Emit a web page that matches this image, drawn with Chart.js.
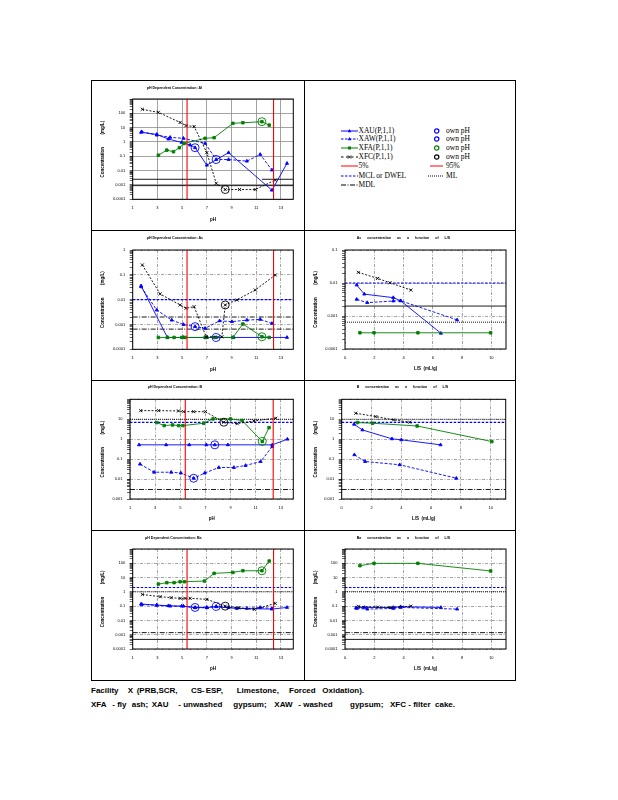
<!DOCTYPE html>
<html>
<head>
<meta charset="utf-8">
<script src="https://cdn.jsdelivr.net/npm/chart.js@4.4.1/dist/chart.umd.min.js"></script>
<style>
  html, body { margin: 0; padding: 0; background: #fff; }
  body { width: 618px; height: 800px; position: relative; overflow: hidden;
         font-family: "Liberation Sans Narrow", "Liberation Sans", Arial, sans-serif; }
  .cell { position: absolute; border: 1px solid #000; box-sizing: border-box; z-index: 3; }
  .ttl { position: absolute; font-size: 3.6px; font-weight: bold; white-space: pre; line-height: 1; z-index: 4; }
  .lg { position: absolute; font-family: "Liberation Serif", "Times New Roman", serif; font-size: 7.5px;
        line-height: 1; white-space: pre; }
  .cap { position: absolute; font-size: 8px; font-weight: bold; line-height: 1; white-space: pre; }
</style>
</head>
<body>
<script>
// ---- axes ----
const phTicks = [1, 3, 5, 7, 9, 11, 13];
const phRange = [1, 14];
const lsTicks = [0, 2, 4, 6, 8, 10];
const lsRange = [0, 11];
const pctPH = [5.4, 12.4];          // 5% and 95%

// ---- Al : pH dependence ----
const alRange = [1e-4, 1e3];
const alXAU = [[1.68,4.7],[2.95,3.4],[3.89,1.6],[4.97,0.93],[5.65,0.61],[6.05,0.40],[7.0,0.024],[8.76,0.18],[12.27,0.00043],[13.49,0.032]];
const alXAW = [[1.73,5.2],[2.95,3.0],[4.03,2.1],[5.11,1.8],[6.86,0.79],[7.76,0.060],[8.76,0.060],[10.24,0.046],[11.32,0.135],[12.27,0.011]];
const alXFA = [[3.08,0.12],[3.76,0.27],[4.30,0.21],[4.78,0.40],[5.16,0.79],[6.86,1.8],[7.59,2.0],[9.11,20],[9.92,22],[11.46,26],[12.05,15]];
const alXFC = [[1.78,190],[3.08,117],[4.84,23],[5.32,14],[5.97,12],[7.0,0.18],[7.76,0.0013],[8.49,0.00048],[9.65,0.00048],[10.92,0.00048],[12.54,0.0022]];
const alOwnPH = [['XAU',6.05,0.40],['XAW',7.76,0.060],['XFA',11.46,26],['XFC',8.49,0.00048]];
const alRefHigh = 0.0025, alRefLow = 0.0009;

// ---- As ----
const asRangePH = [1e-4, 1];
const asRangeLS = [1e-4, 0.1];
const asXAU = [[1.68,0.036],[3.81,0.0003],[5.11,0.0003],[7.0,0.0003],[7.76,0.0003],[9.16,0.0003],[13.49,0.0003]];
const asXAW = [[1.68,0.033],[2.95,0.0038],[4.16,0.0015],[5.11,0.001],[6.05,0.00082],[6.86,0.0007],[8.03,0.0014],[9.03,0.0013],[10.24,0.0015],[11.32,0.0016],[12.27,0.0011]];
const asXFA = [[3.08,0.0003],[3.81,0.0003],[4.35,0.0003],[4.97,0.0003],[5.24,0.0003],[6.86,0.0003],[7.59,0.0003],[9.11,0.0003],[9.92,0.00105],[11.46,0.00032],[12.05,0.0003]];
const asXFC = [[1.78,0.25],[3.22,0.017],[4.84,0.0061],[5.32,0.0045],[5.97,0.0052],[6.95,0.00032],[8.22,0.00032],[8.49,0.0061],[9.43,0.0097],[10.92,0.0245],[12.54,0.098]];
const asOwnPH = [['XAW',6.05,0.00082],['XAU',7.76,0.0003],['XFA',11.46,0.00032],['XFC',8.49,0.0061]];
const asXAU_LS = [[0.8,0.0087],[1.32,0.0046],[3.3,0.0036],[3.8,0.0029],[6.55,0.0003]];
const asXAW_LS = [[0.8,0.0032],[1.52,0.00254],[3.3,0.00285],[3.8,0.0029],[7.66,0.00076]];
const asXFA_LS = [[1.02,0.00031],[1.98,0.00031],[4.98,0.00031],[9.95,0.00031]];
const asXFC_LS = [[0.91,0.021],[2.23,0.0138],[3.07,0.0102],[4.5,0.0061]];
const asMCL = 0.01, asML = 0.002, asMDL = 0.00065;

// ---- B ----
const bRange = [1e-3, 100];
const bXAU = [[1.72,0.52],[3.88,0.52],[5.72,0.52],[7.08,0.52],[7.75,0.52],[8.79,0.52],[12.33,0.52],[13.53,1.0]];
const bXAW = [[1.8,0.056],[2.92,0.022],[4.28,0.022],[5.05,0.020],[6.07,0.011],[6.95,0.020],[8.07,0.038],[9.27,0.038],[10.2,0.048],[11.4,0.076],[12.33,0.43]];
const bXFA = [[3.13,6.8],[3.72,4.8],[4.39,5.2],[4.87,4.8],[5.21,4.8],[6.87,6.3],[7.61,10.4],[9.0,10.4],[9.93,8.6],[11.53,0.76],[12.07,3.8]];
const bXFC = [[1.85,27],[3.27,27],[4.87,26],[5.27,24],[6.07,24],[7.0,24],[8.47,7.1],[9.53,6.0],[10.87,8.3],[12.6,11.2]];
const bOwnPH = [['XAU',7.75,0.52],['XAW',6.07,0.011],['XFA',11.53,0.76],['XFC',8.47,7.1]];
const bXAU_LS = [[0.83,5.6],[1.39,2.9],[3.37,1.04],[4.0,0.93],[6.63,0.52]];
const bXAW_LS = [[0.85,0.165],[1.57,0.076],[3.89,0.052],[7.69,0.011]];
const bXFA_LS = [[1.06,6.8],[2.07,6.3],[5.06,4.6],[10.07,0.76]];
const bXFC_LS = [[0.94,20],[2.29,13.6],[3.48,9.3],[4.56,7.1]];
const bDWEL = 7, bML = 10, bMDL = 0.003;

// ---- Ba ----
const baRange = [1e-4, 1e3];
const baXAU = [[1.68,0.14],[2.95,0.119],[3.89,0.107],[4.97,0.10],[6.05,0.081],[7.0,0.081],[7.76,0.091],[9.43,0.069],[12.27,0.062],[13.49,0.081]];
const baXAW = [[1.73,0.13],[2.95,0.115],[4.03,0.10],[5.11,0.10],[6.05,0.077],[7.0,0.077],[7.76,0.096],[8.76,0.081],[10.24,0.069],[11.32,0.081],[12.27,0.069]];
const baXFA = [[3.08,3.5],[3.76,4.4],[4.35,4.4],[4.84,5.1],[5.19,5.1],[6.81,5.7],[7.59,19.7],[9.11,23],[9.92,30],[11.46,30],[12.05,144]];
const baXFC = [[1.78,0.66],[3.22,0.46],[4.11,0.39],[4.84,0.35],[5.24,0.35],[5.65,0.35],[7.0,0.30],[8.49,0.10],[9.57,0.077],[10.84,0.059],[12.54,0.156]];
const baOwnPH = [['XAU',6.05,0.081],['XAW',7.76,0.096],['XFA',11.46,30],['XFC',8.49,0.10]];
const baXAU_LS = [[0.75,0.077],[1.32,0.081],[3.3,0.081],[3.8,0.091],[6.55,0.081]];
const baXAW_LS = [[0.8,0.069],[1.52,0.062],[3.3,0.069],[3.8,0.081],[7.66,0.062]];
const baXFA_LS = [[1.02,68],[1.98,99],[4.98,99],[9.95,29]];
const baXFC_LS = [[0.91,0.096],[2.23,0.086],[3.07,0.081],[4.5,0.10]];
const baMCL = 2, baML = 1, baMDL = 0.0014, baLow = 0.00047;

// ---- legend + caption text ----
const legendLeft = ['XAU(P,1,1)', 'XAW(P,1,1)', 'XFA(P,1,1)', 'XFC(P,1,1)', '5%', 'MCL or DWEL', 'MDL'];
const legendRight = ['own pH', 'own pH', 'own pH', 'own pH', '95%', 'ML'];
const captionLine1 = ['Facility', 'X', '(PRB,SCR,', 'CS', '-', 'ESP,', 'Limestone,', 'Forced', 'Oxidation).'];
const captionLine2 = ['XFA', '- fly', 'ash;', 'XAU', '- unwashed', 'gypsum;', 'XAW', '- washed', 'gypsum;', 'XFC', '- filter', 'cake.'];

// ---------------------------------------------------------------------------
const FONT = '"Liberation Sans Narrow", "Liberation Sans", Arial, sans-serif';
Chart.defaults.font.family = FONT;
Chart.defaults.color = '#000';

const COLORS = { XAU: '#0000ff', XAW: '#0000ff', XFA: '#008000', XFC: '#000000' };
const MARKER = { XAU: 'triangle', XAW: 'triangle', XFA: 'rect', XFC: 'crossRot' };
const DASH = { solid: [], mcl: [2.5, 1.5], mdl: [5, 1.5, 1, 1.5], dashdot: [3, 1.5, 1, 1.5], dot: [1, 1] };
const GRID = '#8c8c8c';

function decadeTicks(min, max) {
  const out = [];
  const lo = Math.round(Math.log10(min)), hi = Math.round(Math.log10(max));
  for (let d = lo; d <= hi; d++) {
    for (let k = 1; k <= 9; k++) {
      if (d === hi && k > 1) break;
      out.push({ value: Number((k * Math.pow(10, d)).toPrecision(3)), major: k === 1 });
    }
  }
  return out;
}

function seriesSet(key, pts) {
  const c = COLORS[key];
  return {
    data: pts.map(p => ({ x: p[0], y: p[1] })),
    borderColor: c, backgroundColor: c, borderWidth: 0.9,
    borderDash: key === 'XAW' ? [3, 1.6] : key === 'XFC' ? [2, 1.6] : [],
    pointStyle: MARKER[key], pointRadius: key === 'XFC' ? 2.2 : 1.8,
    pointBorderWidth: 0.9, pointBackgroundColor: c, pointBorderColor: c,
    tension: 0, order: 1,
  };
}

function ownSet(list) {
  return {
    data: list.map(p => ({ x: p[1], y: p[2] })), showLine: false,
    pointStyle: 'circle', pointRadius: 4, pointBorderWidth: 0.9,
    pointBorderColor: list.map(p => COLORS[p[0]]), pointBackgroundColor: 'rgba(0,0,0,0)',
    order: 0,
  };
}

function hLine(v, x0, x1, color, dash, w) {
  return { data: [{ x: x0, y: v }, { x: x1, y: v }], borderColor: color, borderDash: DASH[dash],
           borderWidth: w || 0.9, pointRadius: 0, order: 5 };
}

function fmt(v) { return String(v); }

// plot frame, plus the 5% / 95% pH lines placed through the x scale
const frame = {
  id: 'frame',
  afterDatasetsDraw(chart) {
    const a = chart.chartArea, c = chart.ctx;
    c.save();
    if (chart.config.options.plugins.frame.pct) {
      const xs = chart.scales.x;
      c.strokeStyle = '#ff0000'; c.lineWidth = 1.1;
      pctPH.forEach(v => {
        const px = xs.getPixelForValue(v);
        c.beginPath(); c.moveTo(px, a.top); c.lineTo(px, a.bottom); c.stroke();
      });
    }
    c.strokeStyle = '#000'; c.lineWidth = 1;
    c.strokeRect(a.left, a.top, a.right - a.left, a.bottom - a.top);
    c.restore();
  },
};

function makePanel(p) {
  const [cx, cy, cw, ch] = p.cell;
  const [pl, pt, pr, pb] = p.plot;
  const XH = 25;
  const isPH = p.kind === 'pH';
  const xr = isPH ? phRange : lsRange;

  const cv = document.createElement('canvas');
  cv.width = cw; cv.height = ch;
  cv.style.cssText = `position:absolute;left:${cx}px;top:${cy}px;width:${cw}px;height:${ch}px;`;
  document.body.appendChild(cv);

  const datasets = [];
  p.lines.forEach(l => datasets.push(hLine(l[0], l[2] ?? xr[0], l[3] ?? xr[1], l[1] === 'mcl' ? '#0000ff' : '#000', l[1], l[1] === 'mcl' ? 1.1 : 0.9)));
  ['XFC', 'XFA', 'XAW', 'XAU'].forEach(k => datasets.push(seriesSet(k, p.series[k])));
  if (p.own) datasets.push(ownSet(p.own));

  new Chart(cv, {
    type: 'line',
    data: { datasets },
    options: {
      responsive: false, animation: false, events: [],
      layout: { padding: { left: 0, top: pt - cy, right: cx + cw - pr, bottom: cy + ch - pb - XH } },
      plugins: { legend: { display: false }, tooltip: { enabled: false }, frame: { pct: isPH } },
      scales: {
        x: {
          type: 'linear', min: xr[0], max: xr[1],
          afterBuildTicks: s => { s.ticks = (isPH ? phTicks : lsTicks).map(v => ({ value: v })); },
          ticks: { autoSkip: false, maxRotation: 0, font: { size: 4 }, padding: 4 },
          grid: { color: GRID, lineWidth: 0.8, tickLength: 2, tickColor: 'rgba(0,0,0,0)' },
          border: { display: false, dash: p.dash },
          title: { display: true, text: isPH ? 'pH' : 'L/S  (mL/g)', font: { size: 4.5, weight: 'bold' },
                   padding: { top: 0, bottom: 2.3 } },
          afterFit: s => { s.height = XH; },
        },
        y: {
          type: 'logarithmic', min: p.yr[0], max: p.yr[1],
          afterBuildTicks: s => { s.ticks = decadeTicks(p.yr[0], p.yr[1]); },
          ticks: {
            autoSkip: false, font: { size: 4 }, padding: 4.5,
            callback: (v, i, t) => (t[i] && t[i].major && !(p.hideTop && v === p.yr[1])) ? fmt(v) : '',
          },
          grid: {
            color: c => (c.tick && c.tick.major) ? GRID : 'rgba(0,0,0,0)',
            lineWidth: 0.8, tickLength: 3, tickColor: '#000', tickWidth: 0.6,
          },
          border: { display: false, dash: p.dash },
          title: { display: true, text: 'Concentration          (mg/L)', font: { size: 4.5, weight: 'bold' },
                   padding: { top: 9.5, bottom: 0 } },
          afterFit: s => { s.width = pl - cx; },
        },
      },
    },
    plugins: [frame],
  });

  const t = document.createElement('div');
  t.className = 'ttl';
  t.style.left = p.titleAt[0] + 'px';
  t.style.top = (p.titleAt[1] - 2) + 'px';
  if (!isPH) t.style.wordSpacing = '5px';
  t.textContent = p.title;
  document.body.appendChild(t);
}

// ---- page cells ----
const COLX = [[91, 214], [304, 212]];
const ROWY = [80, 230, 380, 530];
ROWY.forEach(y => COLX.forEach(([x, w]) => {
  const d = document.createElement('div');
  d.className = 'cell';
  d.style.cssText = `left:${x}px;top:${y}px;width:${w}px;height:151px;`;
  document.body.appendChild(d);
}));

const DD = DASH.dashdot;
const panels = [
  { kind: 'pH', cell: [91, 80, 213, 150], plot: [132.7, 99, 293.3, 199.3], yr: alRange, hideTop: true, dash: [],
    title: 'pH Dependent Concentration: Al', titleAt: [146.7, 89],
    series: { XAU: alXAU, XAW: alXAW, XFA: alXFA, XFC: alXFC }, own: alOwnPH,
    lines: [[alRefHigh, 'solid', 1, 7.0], [alRefHigh, 'solid', 11.46, 14], [alRefLow, 'solid']] },
  { kind: 'pH', cell: [91, 230, 213, 150], plot: [132.7, 250, 293.3, 349.3], yr: asRangePH, hideTop: false, dash: DD,
    title: 'pH Dependent Concentration: As', titleAt: [146.7, 239],
    series: { XAU: asXAU, XAW: asXAW, XFA: asXFA, XFC: asXFC }, own: asOwnPH,
    lines: [[asMCL, 'mcl'], [asML, 'mdl'], [asMDL, 'mdl']] },
  { kind: 'LS', cell: [304, 230, 212, 150], plot: [345, 250, 506, 349], yr: asRangeLS, hideTop: false, dash: DD,
    title: 'As concentration as a function of L/S', titleAt: [356.7, 239],
    series: { XAU: asXAU_LS, XAW: asXAW_LS, XFA: asXFA_LS, XFC: asXFC_LS },
    lines: [[asMCL, 'mcl'], [asML, 'solid'], [asMDL, 'dot']] },
  { kind: 'pH', cell: [91, 380, 213, 150], plot: [130, 399.3, 293.3, 499], yr: bRange, hideTop: true, dash: DD,
    title: 'pH Dependent Concentration: B', titleAt: [147.7, 388.3],
    series: { XAU: bXAU, XAW: bXAW, XFA: bXFA, XFC: bXFC }, own: bOwnPH,
    lines: [[bDWEL, 'mcl'], [bML, 'dot'], [bMDL, 'mdl']] },
  { kind: 'LS', cell: [304, 380, 212, 150], plot: [341.7, 399.3, 505.7, 499], yr: bRange, hideTop: true, dash: DD,
    title: 'B concentration as a function of L/S', titleAt: [356.7, 388.3],
    series: { XAU: bXAU_LS, XAW: bXAW_LS, XFA: bXFA_LS, XFC: bXFC_LS },
    lines: [[bDWEL, 'mcl'], [bML, 'dot'], [bMDL, 'mdl']] },
  { kind: 'pH', cell: [91, 530, 213, 150], plot: [132.7, 549, 293.3, 649], yr: baRange, hideTop: true, dash: DD,
    title: 'pH Dependent Concentration: Ba', titleAt: [145, 539],
    series: { XAU: baXAU, XAW: baXAW, XFA: baXFA, XFC: baXFC }, own: baOwnPH,
    lines: [[baMCL, 'mcl'], [baML, 'dot'], [baMDL, 'mdl'], [baLow, 'solid']] },
  { kind: 'LS', cell: [304, 530, 212, 150], plot: [345, 549, 506, 649], yr: baRange, hideTop: true, dash: DD,
    title: 'Ba concentration as a function of L/S', titleAt: [356.7, 539.3],
    series: { XAU: baXAU_LS, XAW: baXAW_LS, XFA: baXFA_LS, XFC: baXFC_LS },
    lines: [[baMCL, 'mcl'], [baML, 'dot'], [baMDL, 'mdl'], [baLow, 'solid']] },
];
panels.forEach(makePanel);

// ---- legend panel ----
const LG_ROWS = [130.7, 139.3, 148, 156.7, 165.7, 175.7, 184.7];
const lgSamples = [
  `<line x1="0" y1="4" x2="17" y2="4" stroke="#00f" stroke-width="1"/><path d="M8.5 2 L10.3 5.2 L6.7 5.2 Z" fill="#00f"/>`,
  `<line x1="0" y1="4" x2="17" y2="4" stroke="#00f" stroke-width="1" stroke-dasharray="2.5 1.5"/><path d="M8.5 2 L10.3 5.2 L6.7 5.2 Z" fill="#00f"/>`,
  `<line x1="0" y1="4" x2="17" y2="4" stroke="#008000" stroke-width="1"/><rect x="7" y="2.5" width="3" height="3" fill="#008000"/>`,
  `<line x1="0" y1="4" x2="17" y2="4" stroke="#000" stroke-width="1" stroke-dasharray="2.5 2.5"/><path d="M7 2.5 L10 5.5 M10 2.5 L7 5.5" stroke="#000" stroke-width="1"/>`,
  `<line x1="0" y1="4" x2="17" y2="4" stroke="#f00" stroke-width="1"/>`,
  `<line x1="0" y1="4" x2="17" y2="4" stroke="#00f" stroke-width="1" stroke-dasharray="2.5 1.5"/>`,
  `<line x1="0" y1="4" x2="17" y2="4" stroke="#000" stroke-width="1" stroke-dasharray="5 1.5 1 1.5"/>`,
];
legendLeft.forEach((txt, i) => {
  const y = LG_ROWS[i];
  document.body.insertAdjacentHTML('beforeend',
    `<svg style="position:absolute;left:341px;top:${y - 4}px" width="17" height="8">${lgSamples[i]}</svg>` +
    `<div class="lg" style="left:358.5px;top:${y - 4}px">${txt}</div>`);
});
const ownColors = ['#00f', '#00f', '#008000', '#000'];
legendRight.forEach((txt, i) => {
  const y = LG_ROWS[i];
  let svg;
  if (i < 4) svg = `<svg style="position:absolute;left:433px;top:${y - 4}px" width="8" height="8"><circle cx="3.7" cy="4" r="2.2" fill="none" stroke="${ownColors[i]}" stroke-width="1.2"/></svg>`;
  else if (i === 4) svg = `<svg style="position:absolute;left:430px;top:${y - 4}px" width="14" height="8"><line x1="0" y1="4" x2="13" y2="4" stroke="#f00" stroke-width="1"/></svg>`;
  else svg = `<svg style="position:absolute;left:428px;top:${y - 4}px" width="16" height="8"><line x1="0" y1="4" x2="15" y2="4" stroke="#000" stroke-width="1" stroke-dasharray="1 1"/></svg>`;
  document.body.insertAdjacentHTML('beforeend', svg + `<div class="lg" style="left:446px;top:${y - 4}px">${txt}</div>`);
});

// ---- caption ----
const cap1X = [91, 127.7, 136.7, 191, 201.7, 205.7, 236.7, 289, 322.3];
const cap2X = [91, 112.3, 131.7, 151.7, 178.3, 233.3, 274.3, 298.3, 350, 390, 408.3, 435];
captionLine1.forEach((w, i) => document.body.insertAdjacentHTML('beforeend',
  `<div class="cap" style="left:${cap1X[i]}px;top:686.5px">${w}</div>`));
captionLine2.forEach((w, i) => document.body.insertAdjacentHTML('beforeend',
  `<div class="cap" style="left:${cap2X[i]}px;top:701px">${w}</div>`));
</script>
</body>
</html>
